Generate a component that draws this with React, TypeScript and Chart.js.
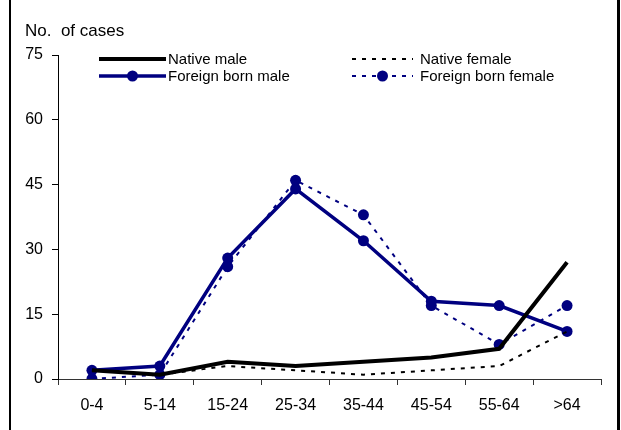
import React, { useEffect, useRef } from "react";
import { Chart, registerables } from "chart.js";

Chart.register(...registerables);

const categories = ["0-4", "5-14", "15-24", "25-34", "35-44", "45-54", "55-64", ">64"];
const nativeMale = [2, 1, 4, 3, 4, 5, 7, 27];
const nativeFemale = [2, 1, 3, 2, 1, 2, 3, 11];
const foreignMale = [2, 3, 28, 44, 32, 18, 17, 11];
const foreignFemale = [0, 1, 26, 46, 38, 17, 8, 17];
const yTicks = [0, 15, 30, 45, 60, 75];
const seriesNames = ["Native male", "Native female", "Foreign born male", "Foreign born female"];
const yTitle = "No.  of cases";

const FONT = "'Liberation Sans', Arial, sans-serif";
const NAVY = "#000080";

const legendPlugin = {
  id: "customLegend",
  afterDraw(chart: any) {
    const ctx = chart.ctx;
    const area = chart.chartArea;
    ctx.save();
    ctx.font = `17px ${FONT}`;
    ctx.fillStyle = "#000";
    ctx.textBaseline = "middle";
    ctx.textAlign = "left";
    ctx.fillText(yTitle, 25, 31);

    const cols = [area.left + 41, area.left + 294];
    const lens = [67, 61];
    const rows = [area.top + 4, area.top + 21];
    // legend slot [column, row] for each series name, in seriesNames order
    const slots = [
      [0, 0],
      [1, 0],
      [0, 1],
      [1, 1],
    ];
    chart.data.datasets.forEach((ds: any) => {
      const idx = seriesNames.indexOf(ds.label);
      const [c, r] = slots[idx];
      const x0 = cols[c];
      const x1 = x0 + lens[c];
      const y = rows[r];
      ctx.beginPath();
      ctx.strokeStyle = ds.borderColor;
      ctx.lineWidth = ds.borderWidth;
      ctx.setLineDash(ds.borderDash || []);
      ctx.moveTo(x0, y);
      ctx.lineTo(x1, y);
      ctx.stroke();
      ctx.setLineDash([]);
      if (ds.pointRadius > 0) {
        ctx.beginPath();
        ctx.fillStyle = ds.pointBackgroundColor;
        ctx.arc((x0 + x1) / 2, y, ds.pointRadius, 0, Math.PI * 2);
        ctx.fill();
      }
      ctx.font = `15px ${FONT}`;
      ctx.fillStyle = "#000";
      ctx.textBaseline = "middle";
      ctx.textAlign = "left";
      ctx.fillText(ds.label, x1 + (c === 0 ? 2 : 7), y + 1);
    });
    ctx.restore();
  },
};

export default function App() {
  const ref = useRef<HTMLCanvasElement>(null);
  useEffect(() => {
    if (!ref.current) return;
    const chart = new Chart(ref.current, {
      type: "line",
      data: {
        labels: categories,
        datasets: [
          {
            label: seriesNames[0],
            data: nativeMale,
            borderColor: "#000",
            borderWidth: 4,
            pointRadius: 0,
            tension: 0,
          },
          {
            label: seriesNames[1],
            data: nativeFemale,
            borderColor: "#000",
            borderWidth: 2,
            borderDash: [4, 6],
            pointRadius: 0,
            tension: 0,
          },
          {
            label: seriesNames[3],
            data: foreignFemale,
            borderColor: NAVY,
            borderWidth: 2,
            borderDash: [4, 6],
            pointRadius: 5.5,
            pointBackgroundColor: NAVY,
            pointBorderWidth: 0,
            tension: 0,
          },
          {
            label: seriesNames[2],
            data: foreignMale,
            borderColor: NAVY,
            borderWidth: 3.5,
            pointRadius: 5.5,
            pointBackgroundColor: NAVY,
            pointBorderWidth: 0,
            tension: 0,
          },
        ],
      },
      options: {
        animation: false,
        responsive: false,
        devicePixelRatio: 1,
        layout: { padding: { left: 0, right: 20, top: 55, bottom: 0 } },
        plugins: {
          legend: { display: false },
          tooltip: { enabled: false },
          title: { display: false },
        },
        scales: {
          x: {
            type: "category",
            offset: true,
            grid: {
              offset: true,
              drawOnChartArea: false,
              drawTicks: true,
              tickLength: 6,
              color: "#333",
            },
            border: { display: true, color: "#333", width: 1 },
            ticks: {
              color: "#000",
              font: { family: FONT, size: 16 },
              padding: 11,
              maxRotation: 0,
            },
            afterFit(scale: any) {
              scale.height = 51;
            },
          },
          y: {
            min: 0,
            max: 75,
            grid: {
              drawOnChartArea: false,
              drawTicks: true,
              tickLength: 6,
              color: "#000",
            },
            border: { display: true, color: "#000", width: 1 },
            ticks: {
              color: "#000",
              font: { family: FONT, size: 16 },
              padding: 9,
            },
            afterBuildTicks(scale: any) {
              scale.ticks = yTicks.map((v) => ({ value: v }));
            },
            afterFit(scale: any) {
              scale.width = 58;
            },
          },
        },
      },
      plugins: [legendPlugin],
    });
    return () => chart.destroy();
  }, []);

  return (
    <div style={{ position: "fixed", left: 0, top: 0, width: 621, height: 430, background: "#fff" }}>
      <canvas ref={ref} width={621} height={430} style={{ position: "absolute", left: 0, top: 0 }} />
      <div
        style={{
          position: "absolute",
          left: 9,
          top: 0,
          width: 611,
          height: 430,
          boxSizing: "border-box",
          borderLeft: "2px solid #000",
          borderRight: "3px solid #000",
          pointerEvents: "none",
        }}
      />
    </div>
  );
}
